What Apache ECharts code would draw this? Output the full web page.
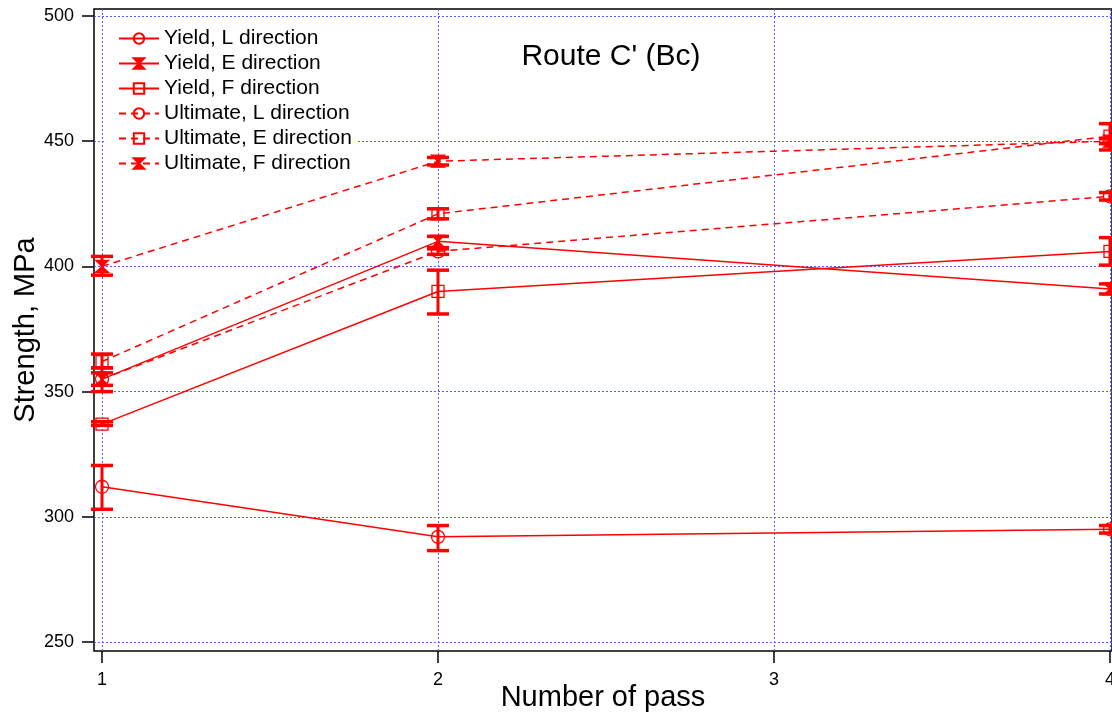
<!DOCTYPE html>
<html><head><meta charset="utf-8">
<script src="https://cdn.jsdelivr.net/npm/echarts@6/dist/echarts.min.js"></script>
<style>html,body{margin:0;padding:0;background:#fff}#c{width:1112px;height:717px}</style>
</head><body><div id="c"></div>
<script>
// ---- data ----
const passes = [1, 2, 4];
const xTicks = [1, 2, 3, 4];
const yTicks = [250, 300, 350, 400, 450, 500];
const titleText = "Route C' (Bc)";
const xName = 'Number of pass';
const yName = 'Strength, MPa';
const seriesNames = ['Yield, L direction', 'Yield, E direction', 'Yield, F direction',
  'Ultimate, L direction', 'Ultimate, E direction', 'Ultimate, F direction'];

const yieldL = [312, 292, 295];
const yieldLErr = [[303, 320.5], [286.5, 296.5], [293.5, 296.5]];
const yieldE = [355, 410, 391];
const yieldEErr = [[350, 357.5], [407.5, 412], [389, 393]];
const yieldF = [337, 390, 406];
const yieldFErr = [[336.5, 338], [381, 398.5], [400.5, 411.5]];
const ultL = [355, 406, 428];
const ultLErr = [[352.5, 359.5], [404.8, 407], [426.5, 429.5]];
const ultE = [362, 421, 452];
const ultEErr = [[359.5, 365], [419, 423], [446.5, 457]];
const ultF = [400, 442, 450];
const ultFErr = [[396.5, 404], [440.5, 443.5], [449, 451]];

// ---- chart ----
const FONT = 'Liberation Sans, Arial, sans-serif';
const RED = '#ff0000';
const bowtie = 'path://M0,0L12,0L6,6L12,12L0,12L6,6Z';
const values = [yieldL, yieldE, yieldF, ultL, ultE, ultF];
const errs = [yieldLErr, yieldEErr, yieldFErr, ultLErr, ultEErr, ultFErr];
const symbols = ['circle', bowtie, 'rect', 'circle', 'rect', bowtie];
const symSizes = [13, [13, 12], 12, 13, 12, [13, 12]];
const filled = [false, true, false, false, false, true];
const dashed = [false, false, false, true, true, true];

const series = [];
values.forEach((vals, i) => {
  series.push({
    name: seriesNames[i],
    type: 'line',
    data: passes.map((p, j) => [p, vals[j]]),
    symbol: symbols[i],
    symbolSize: symSizes[i],
    showSymbol: true,
    clip: false,
    z: 3,
    lineStyle: { color: RED, width: 1.5, type: dashed[i] ? [7, 5] : 'solid' },
    itemStyle: { color: filled[i] ? RED : 'rgba(255,255,255,0)', borderColor: RED, borderWidth: 1.3, opacity: 1 },
    emphasis: { disabled: true },
    animation: false
  });
});
errs.forEach((e, i) => {
  series.push({
    name: seriesNames[i] + ' err',
    type: 'custom',
    data: passes.map((p, j) => [p, e[j][0], e[j][1]]),
    z: 4,
    animation: false,
    renderItem: function (params, api) {
      const x = api.value(0);
      const lo = api.coord([x, api.value(1)]);
      const hi = api.coord([x, api.value(2)]);
      const hw = 11;
      const st = { stroke: RED, lineWidth: 3.5 };
      return {
        type: 'group',
        children: [
          { type: 'line', shape: { x1: lo[0], y1: lo[1], x2: hi[0], y2: hi[1] }, style: { stroke: RED, lineWidth: 3 } },
          { type: 'line', shape: { x1: lo[0] - hw, y1: lo[1], x2: lo[0] + hw, y2: lo[1] }, style: st },
          { type: 'line', shape: { x1: hi[0] - hw, y1: hi[1], x2: hi[0] + hw, y2: hi[1] }, style: st }
        ]
      };
    }
  });
});

const grid = { left: 94, top: 9, width: 1018, height: 642, show: true, borderColor: '#000', borderWidth: 1.5,
  backgroundColor: 'transparent', outerBoundsMode: 'none', containLabel: false };
const split = { show: true, lineStyle: { color: '#5a5aff', width: 1, type: [2, 2] } };

const option = {
  animation: false,
  backgroundColor: '#fff',
  textStyle: { fontFamily: FONT },
  grid: grid,
  graphic: [{ type: 'text', x: 611, y: 57, z: 10,
    style: { text: titleText, fontSize: 30, fontFamily: FONT, fill: '#000', align: 'center', verticalAlign: 'middle' } }],
  legend: {
    data: seriesNames, orient: 'vertical', left: 104, top: 20,
    padding: [8, 4, 5, 14], itemGap: 4, itemWidth: 40, itemHeight: 13,
    backgroundColor: '#fff', selectedMode: false,
    textStyle: { fontSize: 21, color: '#000', fontFamily: FONT }
  },
  xAxis: {
    type: 'value', min: 0.97619, max: 4.00595,
    name: xName, nameLocation: 'middle', nameGap: 32, nameMoveOverlap: false,
    nameTextStyle: { fontSize: 29, color: '#000', fontFamily: FONT },
    axisLine: { show: false },
    axisTick: { show: true, inside: false, length: 12, customValues: xTicks, lineStyle: { color: '#000', width: 1.5 } },
    axisLabel: { customValues: xTicks, fontSize: 18, color: '#000', margin: 20, fontFamily: FONT, formatter: v => String(v) },
    splitLine: split
  },
  yAxis: {
    type: 'value', min: 246.4, max: 502.8,
    name: yName, nameLocation: 'middle', nameGap: 54, nameRotate: 90, nameMoveOverlap: false,
    nameTextStyle: { fontSize: 29, color: '#000', fontFamily: FONT },
    axisLine: { show: false },
    axisTick: { show: true, inside: false, length: 12, customValues: yTicks, lineStyle: { color: '#000', width: 1.5 } },
    axisLabel: { customValues: yTicks, fontSize: 18, color: '#000', margin: 20, fontFamily: FONT, formatter: v => String(v) },
    splitLine: split
  },
  series: series
};
const chart = echarts.init(document.getElementById('c'), null, { renderer: 'canvas' });
chart.setOption(option);
</script></body></html>
